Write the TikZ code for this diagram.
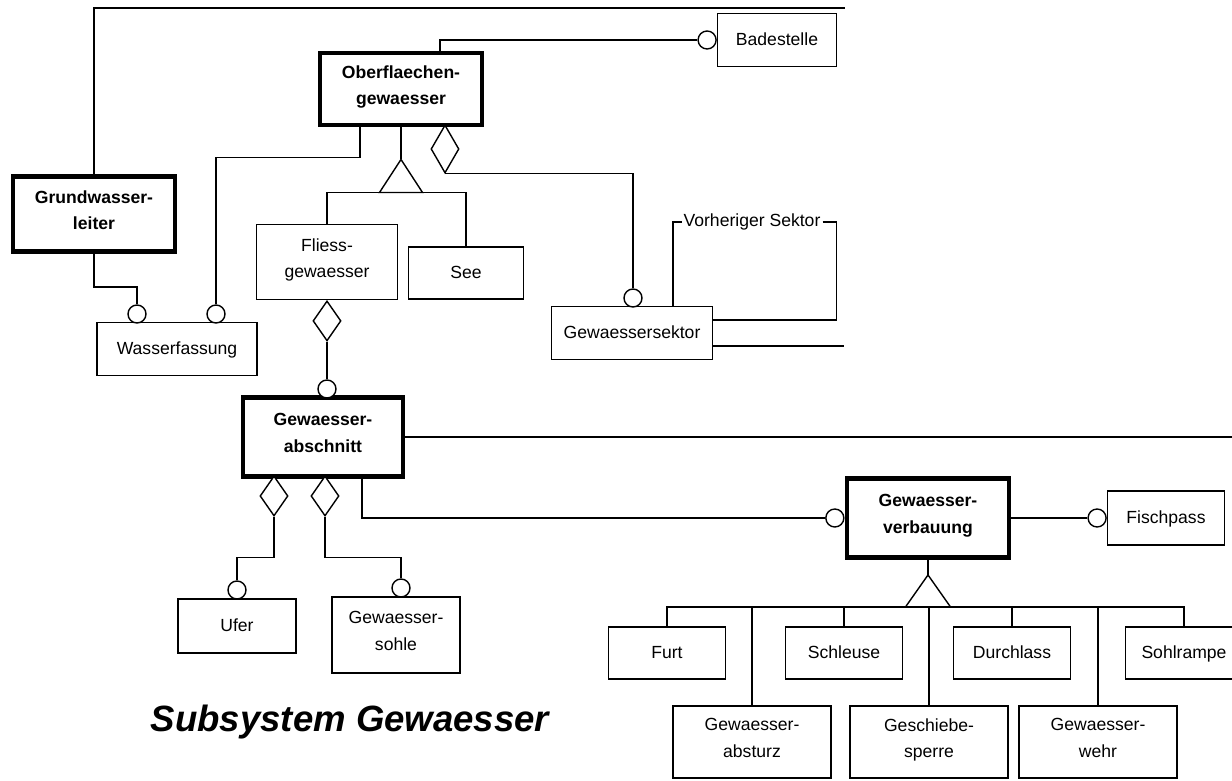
\documentclass[tikz,border=0pt]{standalone}
\usepackage{fontspec}
\setmainfont{Liberation Sans}
\usetikzlibrary{shapes.geometric,positioning,calc}

\begin{document}
\begin{tikzpicture}[%
    x=0.025cm,
    y=-0.025cm,
    line width=1pt,
    every node/.style={font=\fontsize{12.5}{19}\selectfont},
    sz/.style 2 args={minimum width=#1*0.025cm, minimum height=#2*0.025cm},
    entity/.style={draw, align=center, inner sep=2pt,
        execute at begin node=\strut, execute at end node=\strut},
    kernel/.style={entity, line width=3.5pt, font=\fontsize{12.5}{19}\selectfont\bfseries},
    conn/.style={circle, draw, fill=white, minimum size=0.45cm, inner sep=0pt},
    aggr/.style={diamond, draw, fill=white, inner sep=0pt, minimum width=0.7cm, minimum height=1cm}]
    \useasboundingbox (0,0) rectangle (1232,781);

    % kernel entities
    \node[kernel, sz={162}{75}] (grund) at (94,214) {Grundwasser-\\leiter};
    \node[kernel, sz={162}{72}] (ober) at (401,89) {Oberflaechen-\\gewaesser};
    \node[kernel, sz={160}{79}] (abschnitt) at (323,437) {Gewaesser-\\abschnitt};
    \node[kernel, sz={162}{79}] (verbau) at (928,518) {Gewaesser-\\verbauung};

    % other entities
    \node[entity, sz={119}{53}] (bade) at (777,40) {Badestelle};
    \node[entity, sz={141}{75}] (fliess) at (327,262) {Fliess-\\gewaesser};
    \node[entity, sz={115}{52}] (see) at (466,273) {See};
    \node[entity, sz={160}{53}] (wasser) at (177,349) {Wasserfassung};
    \node[entity, sz={161}{53}] (sektor) at (632,333) {Gewaessersektor};
    \node[entity, sz={118}{54}] (ufer) at (237,626) {Ufer};
    \node[entity, sz={128}{76}] (sohle) at (396,635) {Gewaesser-\\sohle};
    \node[entity, sz={117}{54}] (fisch) at (1166,518) {Fischpass};

    \node[entity, sz={117}{52}] (furt) at (667,653) {Furt};
    \node[entity, sz={117}{52}] (schleuse) at (844,653) {Schleuse};
    \node[entity, sz={117}{52}] (durchlass) at (1012,653) {Durchlass};
    \node[entity, sz={117}{52}] (sohlrampe) at (1184,653) {Sohlrampe};
    \node[entity, sz={158}{72}] (absturz) at (752,742) {Gewaesser-\\absturz};
    \node[entity, sz={158}{72}] (sperre) at (929,742) {Geschiebe-\\sperre};
    \node[entity, sz={158}{72}] (wehr) at (1098,742) {Gewaesser-\\wehr};

    \node[inner sep=1pt] (prev) at (752,222) {Vorheriger Sektor};
    \node[font=\fontsize{26}{30}\selectfont\bfseries\itshape] (title) at (350,722) {Subsystem Gewaesser};

    % connector ends
    \node[conn] (c1) at (137,314) {};
    \node[conn] (c2) at (216,314) {};
    \node[conn, left=0pt of bade] (c3) {};
    \node[conn] (c4) at (633,298) {};
    \node[conn] (c5) at (327,389) {};
    \node[conn] (c6) at (237,590) {};
    \node[conn] (c7) at (401,588) {};
    \node[conn, left=0pt of verbau] (c8) {};
    \node[conn, left=0pt of fisch] (c9) {};

    % aggregations
    \node[aggr, minimum height=1.2cm] (d1) at (445,149) {};
    \node[aggr, below=0pt of fliess] (d2) {};
    \node[aggr] (d3) at (274,496) {};
    \node[aggr] (d4) at (325,496) {};

    \coordinate (topend) at (845,8);

    \draw (grund.north) |- (topend);
    \draw (grund.south) -- ++(0,33) -| (c1.north);
    \draw ($(ober.south)+(-41,0)$) -- ++(0,30) -| (c2.north);
    \draw ($(ober.north)+(39,0)$) |- (c3.west);
    \draw (d1.south) -| (c4.north);
    \draw ($(sektor.north)+(41,0)$) |- (prev.west);
    \draw (prev.east) -| ($(sektor.east)+(123,-13)$) -- ($(sektor.east)+(0,-13)$);
    \draw ($(sektor.east)+(0,13)$) -- ++(131,0);
    \draw (d2.south) -- (c5.north);
    \draw (abschnitt.east) -- ++(830,0);
    \draw (d3.south) -- ++(0,41) -| (c6.north);
    \draw (d4.south) -- ++(0,41) -| (c7.north);
    \draw ($(abschnitt.south)+(39,0)$) |- (c8.west);
    \draw (verbau.east) -- (c9.west);

    % generalisations
    \draw (ober.south) -- ++(0,32) coordinate (g1);
    \coordinate (g1b) at ($(g1)+(0,33)$);
    \draw (fliess.north) |- (g1b) -| (see.north);
    \draw (g1) -- ++(-21.5,33) -- ++(43,0) -- cycle;

    \draw (verbau.south) -- ++(0,15) coordinate (g2);
    \coordinate (g2b) at ($(g2)+(0,32)$);
    \draw (furt.north) |- (g2b) -| (sohlrampe.north);
    \draw (g2) -- ++(-22.5,32) -- ++(45,0) -- cycle;
    \foreach \n in {schleuse,durchlass,absturz,sperre,wehr}
        \draw (\n.north) -- (\n.north |- g2b);
\end{tikzpicture}
\end{document}
